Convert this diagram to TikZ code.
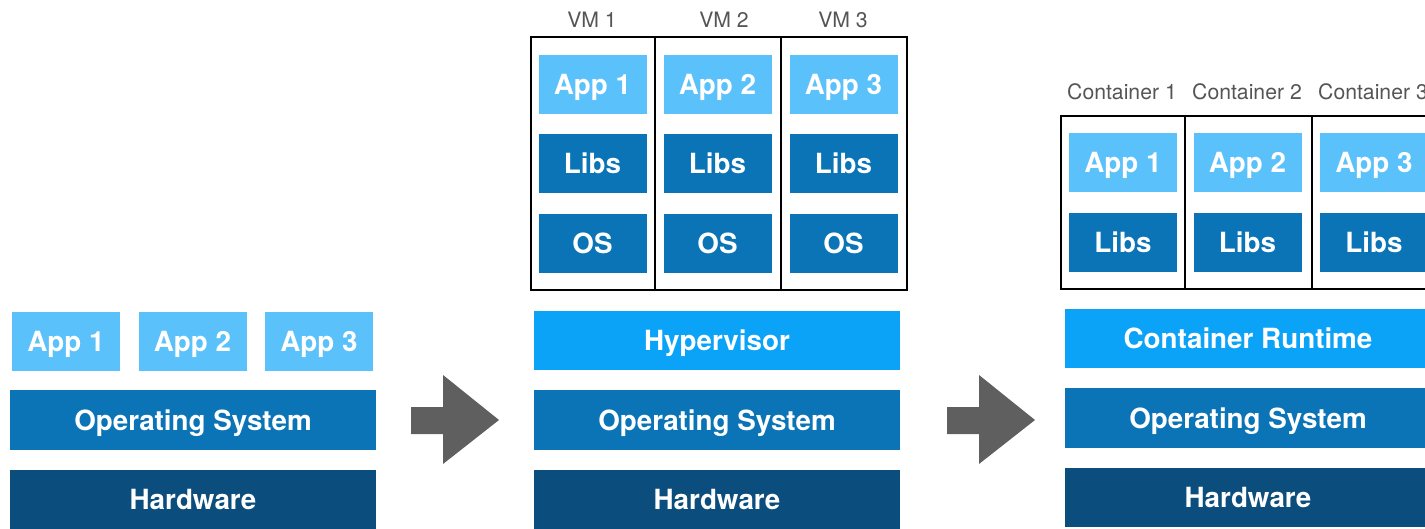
\documentclass[tikz,border=0pt]{standalone}
\usepackage{fontspec}
\setmainfont{TeX Gyre Heros}
\definecolor{applight}{HTML}{5BC1FA}
\definecolor{libsblue}{HTML}{0A74B7}
\definecolor{hyperblue}{HTML}{0BA3F8}
\definecolor{hwblue}{HTML}{0B4E7E}
\definecolor{arrowgray}{HTML}{5F5F5F}
\definecolor{labelgray}{HTML}{555555}
\tikzset{
  layer/.style={inner sep=0pt, text=white, text height=20pt, text depth=0pt,
    font=\bfseries\fontsize{27.8}{28}\selectfont},
  app/.style={layer, fill=applight, minimum width=108pt, minimum height=59pt},
  libs/.style={layer, fill=libsblue, minimum width=108pt, minimum height=59pt},
  osbox/.style={layer, fill=libsblue, minimum width=366pt, minimum height=60pt},
  hyper/.style={layer, fill=hyperblue, minimum width=366pt, minimum height=59pt},
  hw/.style={layer, fill=hwblue, minimum width=366pt, minimum height=59pt},
  caption/.style={inner sep=0pt, text=labelgray, text height=15pt, text depth=0pt,
    font=\fontsize{21.2}{22}\selectfont},
  frame/.style={draw=black, line width=1.4pt}
}
\begin{document}
\begin{tikzpicture}[x=1pt, y=-1pt]
    \clip (0,0) rectangle (1425,528);

    % bare metal
    \node[app] (a1) at (66, 341) {App 1};
    \node[app] (a2) at (192.5, 341) {App 2};
    \node[app] (a3) at (319, 341) {App 3};
    \node[osbox] (os1) at (193, 420) {Operating System};
    \node[hw] (hw1) at (193, 499.5) {Hardware};

    \fill[arrowgray] (411,407) -- (443,407) -- (443,375) -- (499,420)
        -- (443,464) -- (443,434) -- (411,434) -- cycle;

    % virtual machines
    \node[caption] (vm1) at (592, 20) {VM 1};
    \node[caption] (vm2) at (724, 20) {VM 2};
    \node[caption] (vm3) at (843, 20) {VM 3};
    \draw[frame] (531,37) rectangle (655,290);
    \draw[frame] (655,37) rectangle (781,290);
    \draw[frame] (781,37) rectangle (907,290);

    \node[app] (va1) at (592.5, 84.5) {App 1};
    \node[app] (va2) at (717.5, 84.5) {App 2};
    \node[app] (va3) at (843.5, 84.5) {App 3};
    \node[libs] (vl1) at (592.5, 163.5) {Libs};
    \node[libs] (vl2) at (717.5, 163.5) {Libs};
    \node[libs] (vl3) at (843.5, 163.5) {Libs};
    \node[libs] (vo1) at (592.5, 243.5) {OS};
    \node[libs] (vo2) at (717.5, 243.5) {OS};
    \node[libs] (vo3) at (843.5, 243.5) {OS};

    \node[hyper] (hyp) at (717, 340.5) {Hypervisor};
    \node[osbox] (os2) at (717, 420) {Operating System};
    \node[hw] (hw2) at (717, 499.5) {Hardware};

    \fill[arrowgray] (947,407) -- (979,407) -- (979,375) -- (1035,420)
        -- (979,464) -- (979,434) -- (947,434) -- cycle;

    % containers
    \node[caption] (c1) at (1122, 92) {Container 1};
    \node[caption] (c2) at (1247, 92) {Container 2};
    \node[caption] (c3) at (1373, 92) {Container 3};
    \draw[frame] (1061,116) rectangle (1185,289);
    \draw[frame] (1185,116) rectangle (1312,289);
    \draw[frame] (1312,116) rectangle (1438,289);

    \node[app] (ca1) at (1123, 162.5) {App 1};
    \node[app] (ca2) at (1247.5, 162.5) {App 2};
    \node[app] (ca3) at (1374, 162.5) {App 3};
    \node[libs] (cl1) at (1123, 242.5) {Libs};
    \node[libs] (cl2) at (1247.5, 242.5) {Libs};
    \node[libs] (cl3) at (1374, 242.5) {Libs};

    \node[hyper] (rt) at (1248, 338.5) {Container Runtime};
    \node[osbox] (os3) at (1248, 418) {Operating System};
    \node[hw] (hw3) at (1248, 497.5) {Hardware};
  \end{tikzpicture}
\end{document}
